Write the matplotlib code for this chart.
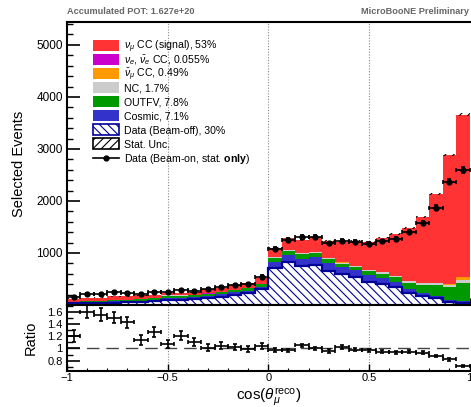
import numpy as np
import matplotlib
matplotlib.use("Agg")
import matplotlib.pyplot as plt
from matplotlib.patches import Rectangle
from matplotlib.lines import Line2D
from matplotlib.ticker import MultipleLocator

plt.rcParams['font.family'] = ['Liberation Sans', 'DejaVu Sans']
plt.rcParams['mathtext.fontset'] = 'custom'
plt.rcParams['mathtext.rm'] = 'Liberation Sans'
plt.rcParams['mathtext.it'] = 'Liberation Sans:italic'
plt.rcParams['mathtext.bf'] = 'Liberation Sans:bold'
plt.rcParams['hatch.linewidth'] = 0.8

# 30 bins in cos(theta) from -1 to 1
N_BINS = 30
edges = np.linspace(-1, 1, N_BINS + 1)

# stacked MC components (events per bin), bottom to top
beam_off = [30, 35, 40, 45, 50, 58, 75, 96, 96, 109, 128, 147, 192, 224, 301,
            705, 821, 750, 776, 660, 590, 532, 448, 404, 340, 237, 173, 128, 64, 45]
cosmic = [18, 20, 22, 24, 26, 28, 30, 38, 45, 45, 48, 55, 50, 50, 52,
          125, 145, 140, 145, 150, 140, 135, 125, 110, 100, 75, 65, 42, 36, 26]
outfv = [15, 17, 18, 20, 20, 22, 24, 45, 40, 40, 40, 40, 45, 45, 50,
         64, 65, 84, 76, 65, 64, 64, 77, 90, 90, 115, 148, 206, 243, 352]
nc = [2, 2, 2, 3, 3, 3, 3, 4, 4, 4, 4, 5, 5, 6, 8,
      20, 22, 22, 22, 22, 22, 22, 22, 24, 25, 28, 32, 38, 45, 60]
numubar_cc = [0, 0, 0, 0, 0, 1, 1, 1, 1, 1, 1, 1, 1, 1, 1,
              2, 2, 2, 2, 2, 2, 3, 3, 3, 4, 6, 9, 14, 24, 50]
nue_cc = [0.3] * 15 + [1] * 15
signal = [55, 60, 56, 74, 69, 77, 58, 53, 46, 46, 79, 81, 88, 88, 112,
          182, 233, 251, 279, 335, 394, 479, 539, 663, 804, 1017, 1268, 1710, 2471, 3122]

# MC statistical uncertainty on the total
mc_stat = [6, 6, 7, 7, 7, 8, 8, 9, 9, 9, 10, 10, 11, 11, 12,
           14, 15, 15, 15, 15, 15, 15, 15, 16, 17, 18, 20, 22, 25, 30]

# beam-on data
data_on = [145, 215, 215, 250, 240, 215, 244, 256, 280, 272, 305, 345, 392, 410, 545,
           1077, 1250, 1313, 1301, 1186, 1237, 1211, 1179, 1224, 1275, 1398, 1577, 1872, 2365, 2596]

labels = [r'$\nu_{\mu}$ CC (signal), 53%',
          r'$\nu_{e}$, $\bar{\nu}_{e}$ CC, 0.055%',
          r'$\bar{\nu}_{\mu}$ CC, 0.49%',
          'NC, 1.7%',
          'OUTFV, 7.8%',
          'Cosmic, 7.1%',
          'Data (Beam-off), 30%',
          'Stat. Unc.',
          r'Data (Beam-on, stat. $\mathbf{only}$)']

C_SIGNAL = '#ff3333'
C_NUE = '#cc00cc'
C_NUMUBAR = '#ff9900'
C_NC = '#cccccc'
C_OUTFV = '#009900'
C_COSMIC = '#3333cc'
C_BEAMOFF = '#000099'

centers = 0.5 * (edges[:-1] + edges[1:])
half_w = 0.5 * (edges[1] - edges[0])
data_on = np.array(data_on, dtype=float)

# figure is 471x407 px; axes placed in pixel units
W, H = 471, 407
AX_L, AX_W = 67, 402.5
TOP_Y0, TOP_Y1 = 22, 305      # upper pad (px from top)
BOT_Y1 = 370.7                # lower pad bottom

fig = plt.figure(figsize=(W / 100, H / 100), dpi=100)
ax = fig.add_axes([AX_L / W, (H - TOP_Y1) / H, AX_W / W, (TOP_Y1 - TOP_Y0) / H])
rax = fig.add_axes([AX_L / W, (H - BOT_Y1) / H, AX_W / W, (BOT_Y1 - TOP_Y1) / H], sharex=ax)

for xv in (-0.5, 0, 0.5):
    ax.axvline(xv, color='#888888', ls=(0, (1, 1.5)), lw=0.8, zorder=0)
    rax.axvline(xv, color='#888888', ls=(0, (1, 1.5)), lw=0.8, zorder=0)

# stack
bottom = np.zeros(N_BINS)
ax.stairs(np.array(beam_off, float), edges, baseline=0, fill=True, facecolor='white',
          edgecolor=C_BEAMOFF, hatch=r'\\\\', lw=0, zorder=2)
ax.stairs(np.array(beam_off, float), edges, baseline=None, color=C_BEAMOFF, lw=1.6, zorder=3)
bottom += beam_off
for vals, col in [(cosmic, C_COSMIC), (outfv, C_OUTFV), (nc, C_NC),
                  (numubar_cc, C_NUMUBAR), (nue_cc, C_NUE), (signal, C_SIGNAL)]:
    top = bottom + np.array(vals, float)
    ax.stairs(top, edges, baseline=bottom.copy(), fill=True, facecolor=col, lw=0, zorder=2)
    bottom = top
mc_total = bottom

# stat band
mc_stat = np.array(mc_stat, float)
ax.stairs(mc_total + mc_stat, edges, baseline=mc_total - mc_stat, fill=True,
          facecolor='none', edgecolor='black', hatch='////', lw=0, zorder=4)

ax.errorbar(centers, data_on, xerr=half_w, yerr=np.sqrt(data_on), fmt='o', color='black',
            ms=3.5, elinewidth=1.2, capsize=1.5, capthick=1.2, zorder=5)

# ratio panel
ratio = data_on / mc_total
ratio_err = np.sqrt(data_on) / mc_total
rax.axhline(1, color='#444444', ls=(0, (9, 5)), lw=1, zorder=1)
rax.errorbar(centers, ratio, xerr=half_w, yerr=ratio_err, fmt='none', ecolor='black',
             elinewidth=1.2, capsize=1.5, capthick=1.2, zorder=5)

ax.set_xlim(-1, 1)
ax.set_ylim(0, 5440)
rax.set_ylim(0.637, 1.71)

ax.set_yticks([1000, 2000, 3000, 4000, 5000])
ax.yaxis.set_minor_locator(MultipleLocator(200))
ax.xaxis.set_major_locator(MultipleLocator(0.5))
ax.xaxis.set_minor_locator(MultipleLocator(0.1))
rax.set_yticks([0.8, 1.0, 1.2, 1.4, 1.6])
rax.set_yticklabels(['0.8', '1', '1.2', '1.4', '1.6'])
rax.yaxis.set_minor_locator(MultipleLocator(0.1))
rax.set_xticks([-1, -0.5, 0, 0.5, 1])
rax.set_xticklabels(['\u22121', '\u22120.5', '0', '0.5', '1'])

for a in (ax, rax):
    a.tick_params(which='both', direction='in', top=False, right=False, labelsize=8.5, pad=3)
    a.tick_params(which='major', axis='y', length=9, width=1.2)
    a.tick_params(which='minor', axis='y', length=4.5, width=1.0)
    a.tick_params(which='major', axis='x', length=5, width=1.0, pad=1.5, labelsize=8)
    a.tick_params(which='minor', axis='x', length=2.5, width=0.8)
    a.spines['right'].set_visible(False)
    for s in ('left', 'top', 'bottom'):
        a.spines[s].set_linewidth(1.5)
ax.tick_params(labelbottom=False)
rax.tick_params(axis='y', labelsize=8)

ax.set_ylabel('Selected Events', fontsize=10.5)
ax.yaxis.set_label_coords(-0.102, 0.5)
rax.set_ylabel('Ratio', fontsize=10.5)
rax.yaxis.set_label_coords(-0.072, 0.5)
rax.set_xlabel(r'cos($\theta_{\mu}^{\rm reco}$)', fontsize=11)
rax.xaxis.set_label_coords(0.5, -0.23)

# legend drawn by hand so every row has the same spacing
def px_to_ax(px, py):
    return (px - AX_L) / AX_W, (TOP_Y1 - py) / (TOP_Y1 - TOP_Y0)

legend_styles = [dict(facecolor=C_SIGNAL, lw=0),
                 dict(facecolor=C_NUE, lw=0),
                 dict(facecolor=C_NUMUBAR, lw=0),
                 dict(facecolor=C_NC, lw=0),
                 dict(facecolor=C_OUTFV, lw=0),
                 dict(facecolor=C_COSMIC, lw=0),
                 dict(facecolor='white', edgecolor=C_BEAMOFF, hatch=r'\\\\', lw=1.2),
                 dict(facecolor='white', edgecolor='black', hatch='////', lw=1.2),
                 None]
box_w = 26 / AX_W
box_h = 11 / (TOP_Y1 - TOP_Y0)
for i, (lab, sty) in enumerate(zip(labels, legend_styles)):
    yc = 45.3 + i * 14.1
    x0, y0 = px_to_ax(93, yc)
    if sty is None:
        ax.add_line(Line2D([x0, x0 + box_w], [y0, y0], color='black', lw=1.2,
                           transform=ax.transAxes, clip_on=False))
        ax.add_line(Line2D([x0 + box_w / 2], [y0], color='black', marker='o', ms=3.5,
                           transform=ax.transAxes, clip_on=False))
    else:
        ax.add_patch(Rectangle((x0, y0 - box_h / 2), box_w, box_h, transform=ax.transAxes,
                               clip_on=False, zorder=6, **sty))
    tx, ty = px_to_ax(124, yc + 3.8)
    ax.text(tx, ty, lab, transform=ax.transAxes, fontsize=7.6, va='baseline', ha='left')

fig.text(67 / W, 1 - 14 / H, 'Accumulated POT: 1.627e+20', fontsize=6.6,
         weight='bold', color='#666666', va='baseline', ha='left')
fig.text(469 / W, 1 - 14 / H, 'MicroBooNE Preliminary', fontsize=6.6,
         weight='bold', color='#666666', va='baseline', ha='right')

fig.savefig('out.png', dpi=100)
